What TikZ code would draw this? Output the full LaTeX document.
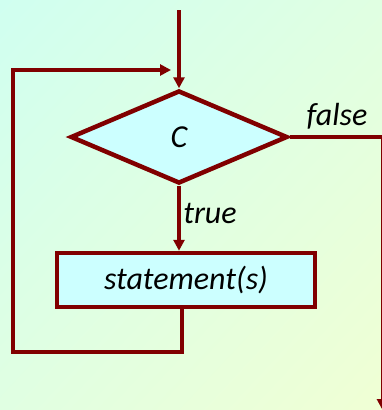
\documentclass[tikz,border=0pt]{standalone}
\usepackage{fontspec}
\setmainfont{Carlito}
\usetikzlibrary{shapes.geometric,arrows.meta,shadings}

\definecolor{maroonline}{RGB}{128,0,0}
\definecolor{boxfill}{RGB}{204,255,255}
\definecolor{bgcyan}{RGB}{208,255,240}
\definecolor{bgyellow}{RGB}{240,255,212}

\begin{document}
\begin{tikzpicture}[
  x=1pt,y=-1pt,
  font=\fontsize{32}{38}\selectfont\itshape,
  dec/.style={diamond,draw=maroonline,fill=boxfill,line width=4.5pt,
    minimum width=217pt,minimum height=93pt,inner sep=0pt},
  proc/.style={rectangle,draw=maroonline,fill=boxfill,line width=4.5pt,
    minimum width=258pt,minimum height=54pt,inner sep=0pt},
  flow/.style={maroonline,line width=3.6pt},
  arr/.style={flow,-{Triangle[length=11pt,width=11pt]}},
  lbl/.style={inner sep=0pt}
]
\shade[upper left=bgcyan,lower right=bgyellow,
  upper right=bgcyan!50!bgyellow,lower left=bgcyan!50!bgyellow]
  (0,0) rectangle (382,410);
\useasboundingbox (0,0) rectangle (382,410);

\coordinate (in)  at (179,10);
\coordinate (bl)  at (13,352);
\coordinate (tip) at (171,70);
\coordinate (out) at (382.5,410);

\node[dec]  (cond) at (179,137) {C};
\node[proc] (stmt) at (186,280) {statement(s)};

\draw[arr] (in) -- (cond.north);
\draw[arr] (cond.south) -- (cond.south |- stmt.north);
\draw[arr] ([xshift=-4pt]stmt.south) |- (bl) |- (tip);
\draw[arr] (cond.east) -| (out);

\node[lbl] (flbl) at (337,116) {false};
\node[lbl] (tlbl) at (210,213) {true};
\end{tikzpicture}
\end{document}
